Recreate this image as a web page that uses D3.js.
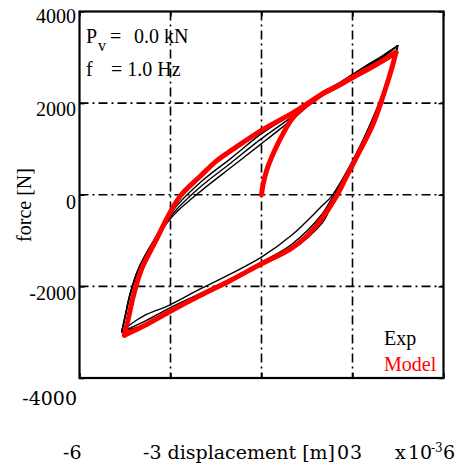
<!DOCTYPE html>
<html>
<head>
<meta charset="utf-8">
<script src="https://cdn.jsdelivr.net/npm/d3@7"></script>
<style>
  html, body { margin: 0; padding: 0; background: #fff; }
  svg { display: block; }
  text { font-family: "Liberation Serif", "Times New Roman", serif; fill: #000; }
  .lower { font-family: "DejaVu Serif", serif; }
</style>
</head>
<body>
<svg id="chart" width="458" height="468"></svg>
<script>
// Axis ticks and labels
const xTicks = [-6, -3, 0, 3, 6];
const yTicks = [-4000, -2000, 0, 2000, 4000];
const yTickLabels = ["4000", "2000", "0", "-2000"];
const yLabelValues = [4000, 2000, 0, -2000];
const gridX = [-3, 0, 3];
const gridY = [-2000, 0, 2000];

// Model: virgin loading, unloading branch, reloading branch (displacement x1e-3 m, force N)
const modelLoadX = [0, 0.06, 0.19, 0.41, 0.68, 1.01, 1.40, 1.75, 2.01, 2.5, 3.0, 3.5, 4.0, 4.43];
const modelLoadF = [0, 250, 572, 935, 1297, 1659, 1913, 2080, 2203, 2370, 2560, 2740, 2930, 3109];
const modelDownX = [4.43, 4.32, 4.05, 3.66, 3.11, 2.75, 2.5, 2.0, 1.5, 0.96, 0, -1.02, -2.01, -3.05, -3.84, -4.52];
const modelDownF = [3109, 2819, 2239, 1514, 790, 330, 0, -510, -900, -1181, -1507, -1870, -2196, -2558, -2848, -3065];
const modelUpX = [-4.52, -4.39, -4.22, -3.95, -3.51, -3.07, -2.67, -2.01, -1.5, -0.91, 0, 1.07, 2.01, 2.5, 3.0, 3.5, 4.0, 4.43];
const modelUpF = [-3065, -2703, -2196, -1616, -1036, -457, -22, 410, 730, 1007, 1407, 1804, 2203, 2370, 2560, 2740, 2930, 3109];

// Experiment: three measured cycles sampled on shared displacement points
const expDownX = [4.49, 4.35, 4.1, 3.8, 3.5, 3.1, 2.7, 2.3, 2.0, 1.0, 0, -1.0, -2.0, -3.05, -3.84, -4.3, -4.61];
const expDownF1 = [3254, 2920, 2400, 1880, 1420, 870, 380, -40, -239, -880, -1362, -1720, -2050, -2413, -2630, -2820, -2993];
const expDownF2 = [3254, 2900, 2370, 1840, 1370, 820, 320, -100, -420, -1080, -1470, -1830, -2150, -2480, -2760, -2900, -2993];
const expDownF3 = [3254, 2880, 2340, 1800, 1320, 760, 230, -260, -620, -1200, -1530, -1880, -2200, -2560, -2830, -2930, -2993];
const expUpX = [-4.61, -4.5, -4.33, -4.05, -3.6, -3.1, -2.74, -2.0, -1.0, 0, 1.0, 1.5, 2.0, 2.5, 3.0, 3.5, 4.0, 4.49];
const expUpF1 = [-2993, -2650, -2150, -1600, -1050, -520, -200, 280, 800, 1333, 1760, 2000, 2240, 2420, 2630, 2840, 3040, 3254];
const expUpF2 = [-2993, -2670, -2170, -1610, -1060, -560, -280, 180, 700, 1224, 1700, 1960, 2220, 2400, 2610, 2820, 3020, 3254];
const expUpF3 = [-2993, -2690, -2190, -1620, -1070, -600, -340, 80, 600, 1115, 1640, 1920, 2200, 2380, 2590, 2800, 3000, 3254];

const svg = d3.select("#chart");
const x = d3.scaleLinear().domain([-6, 6]).range([79.5, 443.5]);
const y = d3.scaleLinear().domain([-4000, 4000]).range([378, 11.5]);

const dashDot = "9,4,2,4";

// Grid lines
svg.append("g").selectAll("line").data(gridX).join("line")
  .attr("x1", d => x(d)).attr("x2", d => x(d))
  .attr("y1", y(4000)).attr("y2", y(-4000))
  .attr("stroke", "#000").attr("stroke-width", 1.6).attr("stroke-dasharray", dashDot);
svg.append("g").selectAll("line").data(gridY).join("line")
  .attr("x1", x(-6)).attr("x2", x(6))
  .attr("y1", d => y(d)).attr("y2", d => y(d))
  .attr("stroke", "#000").attr("stroke-width", 1.6).attr("stroke-dasharray", dashDot);

// Inward tick marks on all four sides
function ticks(axis, transform) {
  const g = svg.append("g").attr("transform", transform).call(axis);
  g.select(".domain").remove();
  g.selectAll("text").remove();
  g.selectAll("line").attr("stroke", "#000").attr("stroke-width", 1.5);
}
ticks(d3.axisBottom(x).tickValues(xTicks).tickSizeInner(-5).tickSizeOuter(0), `translate(0,${y(-4000)})`);
ticks(d3.axisTop(x).tickValues(xTicks).tickSizeInner(-5).tickSizeOuter(0), `translate(0,${y(4000)})`);
ticks(d3.axisLeft(y).tickValues(yTicks).tickSizeInner(-5).tickSizeOuter(0), `translate(${x(-6)},0)`);
ticks(d3.axisRight(y).tickValues(yTicks).tickSizeInner(-5).tickSizeOuter(0), `translate(${x(6)},0)`);

// Curves
const line = d3.line()
  .x(d => x(d[0])).y(d => y(d[1]))
  .curve(d3.curveCatmullRom.alpha(0.5));
const zip = (xs, fs) => xs.map((v, i) => [v, fs[i]]);

const expBranches = [
  zip(expDownX, expDownF1), zip(expUpX, expUpF1),
  zip(expDownX, expDownF2), zip(expUpX, expUpF2),
  zip(expDownX, expDownF3), zip(expUpX, expUpF3)
];
svg.append("g").selectAll("path").data(expBranches).join("path")
  .attr("d", line).attr("fill", "none")
  .attr("stroke", "#000").attr("stroke-width", 1.4)
  .attr("stroke-linejoin", "round").attr("stroke-linecap", "round");

const modelBranches = [
  zip(modelLoadX, modelLoadF), zip(modelDownX, modelDownF), zip(modelUpX, modelUpF)
];
svg.append("g").selectAll("path").data(modelBranches).join("path")
  .attr("d", line).attr("fill", "none")
  .attr("stroke", "#ff0000").attr("stroke-width", 5)
  .attr("stroke-linejoin", "round").attr("stroke-linecap", "round");

// Frame
svg.append("rect")
  .attr("x", x(-6)).attr("y", y(4000))
  .attr("width", x(6) - x(-6)).attr("height", y(-4000) - y(4000))
  .attr("fill", "none").attr("stroke", "#000").attr("stroke-width", 2.2);

// Y tick labels
const yLabelShift = { "4000": 11, "2000": 13, "0": 14, "-2000": 14 };
svg.append("g").selectAll("text").data(yLabelValues).join("text")
  .attr("x", 76).attr("y", (d, i) => y(d) + yLabelShift[yTickLabels[i]])
  .attr("text-anchor", "end").attr("font-size", 20)
  .text((d, i) => yTickLabels[i]);

// Lower row of labels
svg.append("text").attr("class", "lower").attr("x", 77).attr("y", 405)
  .attr("text-anchor", "end").attr("font-size", 19).text("-4000");
const bottom = svg.append("g").attr("class", "lower").attr("font-size", 19);
bottom.append("text").attr("class", "lower").attr("x", 63).attr("y", 459).text("-6");
bottom.append("text").attr("class", "lower").attr("x", 143).attr("y", 459).text("-3 displacement [m]");
bottom.append("text").attr("class", "lower").attr("x", 337).attr("y", 459).text("0");
bottom.append("text").attr("class", "lower").attr("x", 350).attr("y", 459).text("3");
bottom.append("text").attr("class", "lower").attr("x", 395).attr("y", 459).text("x");
bottom.append("text").attr("class", "lower").attr("x", 408).attr("y", 459).text("10");
bottom.append("text").attr("class", "lower").attr("x", 431).attr("y", 452)
  .attr("font-size", 12).text("-3");
bottom.append("text").attr("class", "lower").attr("x", 443).attr("y", 459).text("6");

// Y axis title
svg.append("text")
  .attr("transform", "translate(31,205) rotate(-90)")
  .attr("text-anchor", "middle").attr("font-size", 20)
  .text("force [N]");

// Test conditions
const info = svg.append("g").attr("font-size", 20);
const l1 = info.append("text").attr("y", 43);
l1.append("tspan").attr("x", 86).text("P");
l1.append("tspan").attr("x", 98).attr("dy", 8).attr("font-size", 16).text("v");
l1.append("tspan").attr("x", 110).attr("dy", -8).text("=");
l1.append("tspan").attr("x", 134).text("0.0 kN");
const l2 = info.append("text").attr("y", 76);
l2.append("tspan").attr("x", 86).text("f");
l2.append("tspan").attr("x", 111).text("= 1.0 Hz");

// Legend
svg.append("text").attr("x", 384).attr("y", 345).attr("font-size", 20).text("Exp");
svg.append("text").attr("x", 384).attr("y", 371).attr("font-size", 20)
  .style("fill", "#ff0000").text("Model");
</script>
</body>
</html>
